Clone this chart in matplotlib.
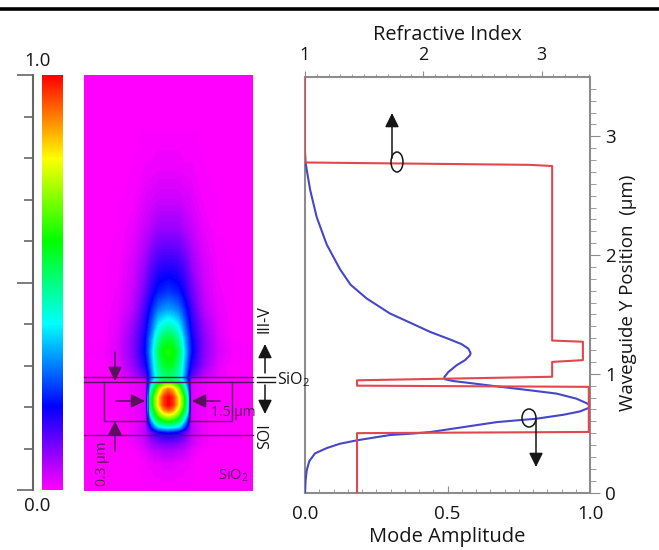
import matplotlib
matplotlib.use("Agg")
import matplotlib.pyplot as plt
import numpy as np
from matplotlib.colors import LinearSegmentedColormap
from matplotlib.patches import Ellipse

plt.rcParams['font.family'] = ['Open Sans', 'DejaVu Sans']
plt.rcParams['mathtext.default'] = 'regular'

W, H = 659, 550
DARK = '#151515'
GREY = '#8c8c8c'
PURPLE = '#5a1060'

# mode amplitude curve
amp = [0, 0.002, 0.006, 0.015, 0.035, 0.076, 0.123, 0.181, 0.24, 0.298, 0.38, 0.439, 0.556, 0.673, 0.813,
       0.907, 0.965, 0.994, 1.0, 0.992, 0.953, 0.883, 0.789, 0.673, 0.579, 0.52, 0.491, 0.489, 0.503,
       0.532, 0.561, 0.579, 0.581, 0.573, 0.55, 0.509, 0.439, 0.333, 0.298, 0.216, 0.16, 0.123, 0.076,
       0.041, 0.018, 0.006, 0.002, 0]
amp_y = [0, 0.10, 0.186, 0.264, 0.329, 0.374, 0.411, 0.439, 0.462, 0.484, 0.497, 0.509, 0.551, 0.593, 0.622,
         0.655, 0.683, 0.711, 0.73, 0.748, 0.79, 0.833, 0.861, 0.894, 0.922, 0.939, 0.954, 0.973, 1.015,
         1.072, 1.114, 1.156, 1.175, 1.212, 1.249, 1.289, 1.353, 1.47, 1.508, 1.635, 1.75, 1.88, 2.09,
         2.32, 2.55, 2.72, 2.78, 2.86]

# refractive index profile
index = [1.44, 1.44, 3.40, 3.40, 1.44, 1.44, 3.09, 3.09, 3.35, 3.35, 3.09, 3.09, 2.9, 1, 1]
index_y = [0, 0.5, 0.51, 0.89, 0.90, 0.945, 0.975, 1.1, 1.115, 1.27, 1.28, 2.75, 2.76, 2.78, 3.5]

# field map, read by eye. half profile, mirrored around the waveguide centre
field_x = [0, 0.04, 0.08, 0.11, 0.14, 0.17, 0.19, 0.24, 0.30, 0.42, 0.55, 0.72]
field_y = [3.52, 3.05, 2.72, 2.46, 2.21, 1.92, 1.68, 1.54, 1.43, 1.28, 1.18, 1.07, 0.98, 0.94,
           0.90, 0.86, 0.79, 0.73, 0.69, 0.65, 0.59, 0.54, 0.50, 0.46, 0.40, 0.34, 0.23, 0]
field = [
    [0, 0, 0, 0, 0, 0, 0, 0, 0, 0, 0, 0],
    [0, 0, 0, 0, 0, 0, 0, 0, 0, 0, 0, 0],
    [.015, .015, .015, .012, .01, .01, .01, .005, 0, 0, 0, 0],
    [.04, .04, .04, .035, .03, .03, .025, .015, .005, 0, 0, 0],
    [.08, .08, .08, .07, .06, .05, .045, .03, .015, 0, 0, 0],
    [.16, .16, .15, .14, .12, .10, .08, .055, .03, .005, 0, 0],
    [.24, .23, .22, .20, .17, .14, .12, .08, .04, .01, 0, 0],
    [.32, .31, .29, .26, .22, .18, .15, .10, .05, .015, 0, 0],
    [.42, .40, .37, .32, .26, .21, .17, .12, .07, .02, 0, 0],
    [.56, .54, .48, .41, .32, .25, .20, .14, .09, .025, 0, 0],
    [.62, .60, .54, .45, .35, .26, .21, .15, .09, .03, .005, 0],
    [.58, .56, .50, .42, .32, .23, .18, .13, .08, .02, 0, 0],
    [.52, .50, .46, .39, .29, .19, .13, .09, .05, .015, 0, 0],
    [.55, .52, .48, .40, .30, .19, .05, .03, .02, .005, 0, 0],
    [.72, .68, .60, .50, .38, .22, .03, .02, .01, 0, 0, 0],
    [.90, .84, .72, .60, .44, .26, .03, .02, .01, 0, 0, 0],
    [1.0, .95, .82, .70, .55, .35, .03, .02, .01, 0, 0, 0],
    [1.0, .95, .82, .70, .55, .35, .03, .02, .01, 0, 0, 0],
    [.93, .88, .76, .65, .51, .33, .03, .02, .01, 0, 0, 0],
    [.80, .77, .68, .58, .45, .28, .03, .02, .01, 0, 0, 0],
    [.60, .58, .52, .44, .32, .18, .04, .02, .01, 0, 0, 0],
    [.40, .39, .36, .30, .22, .12, .05, .03, .01, 0, 0, 0],
    [.22, .21, .19, .16, .12, .08, .05, .03, .01, 0, 0, 0],
    [.16, .15, .14, .12, .10, .07, .05, .03, .01, 0, 0, 0],
    [.10, .10, .09, .08, .07, .05, .04, .02, .01, 0, 0, 0],
    [.06, .06, .05, .05, .04, .03, .02, .01, 0, 0, 0, 0],
    [.02, .02, .015, .015, .01, .01, .005, 0, 0, 0, 0, 0],
    [0, 0, 0, 0, 0, 0, 0, 0, 0, 0, 0, 0],
]

colormap_colors = ['#ff00ff', '#0000ff', '#00ffff', '#00ff00', '#ffff00', '#ff0000']


def px_axes(left, top, right, bottom):
    return fig.add_axes([left / W, (H - bottom) / H, (right - left) / W, (bottom - top) / H])


fig = plt.figure(figsize=(W / 100, H / 100), dpi=100)
cmap = LinearSegmentedColormap.from_list('field', colormap_colors, N=256)

# field image
half = np.array(field)
z = np.hstack([half[:, :0:-1], half])
x = np.concatenate([-np.array(field_x)[:0:-1], field_x])
ax_img = px_axes(84, 75, 253, 491)
ax_img.contourf(x, field_y, z, levels=np.linspace(0, 1, 129), cmap=cmap, extend='both', antialiased=False)
ax_img.set_xlim(-0.71, 0.71)
ax_img.set_ylim(0, 3.52)
ax_img.axis('off')

# colour scale
ax_bar = px_axes(42, 75, 63, 490)
ax_bar.imshow(np.linspace(1, 0, 256).reshape(-1, 1), aspect='auto', cmap=cmap, extent=[0, 1, 0, 1])
ax_bar.set_xticks([])
ax_bar.set_yticks([])
for s in ax_bar.spines.values():
    s.set_visible(False)
ax_scale = px_axes(32, 75, 33, 490)
ax_scale.set_ylim(0, 1)
ax_scale.set_xticks([])
ax_scale.set_yticks([0, 0.5, 1])
ax_scale.set_yticks(np.arange(0.1, 1, 0.1), minor=True)
ax_scale.set_yticklabels([])
ax_scale.tick_params(axis='y', which='major', length=11, width=1.2, color='#666666')
ax_scale.tick_params(axis='y', which='minor', length=6, width=1.2, color='#666666')
for name, s in ax_scale.spines.items():
    s.set_visible(name == 'right')
    s.set_color('#666666')
    s.set_linewidth(1.5)

# profile plot
ax = px_axes(305, 77, 590, 492.5)
ax.plot(amp, amp_y, color='#4646c8', lw=1.5, zorder=3)
ax.set_xlim(0, 1)
ax.set_ylim(0, 3.5)
ax.set_xticks([0, 0.5, 1])
ax.set_xticklabels(['0.0', '0.5', '1.0'], fontsize=13.5, color=DARK)
ax.set_xticks(np.arange(0.05, 1, 0.05), minor=True)
ax.tick_params(axis='x', which='both', direction='in', color=GREY)
ax.tick_params(axis='x', which='major', length=5, pad=9)
ax.tick_params(axis='x', which='minor', length=3)
ax.set_xlabel('Mode Amplitude', fontsize=14.5, color=DARK, labelpad=3)
ax.yaxis.tick_right()
ax.yaxis.set_label_position('right')
ax.set_yticks([0, 1, 2, 3])
ax.set_yticklabels(['0', '1', '2', '3'], fontsize=13.5, color=DARK)
ax.set_yticks(np.arange(0, 3.5, 0.1), minor=True)
ax.tick_params(axis='y', which='major', length=7, color=GREY, pad=4)
ax.tick_params(axis='y', which='minor', length=4, color=GREY)
ax.set_ylabel('Waveguide Y Position  (µm)', fontsize=13.5, color=DARK, labelpad=2, y=0.48)
for s in ax.spines.values():
    s.set_color(GREY)
    s.set_linewidth(1.5)

ax_top = ax.twiny()
ax_top.plot(index, index_y, color='#e2474e', lw=1.5, zorder=4)
ax_top.set_xlim(1, 3.41)
ax_top.set_xticks([1, 2, 3])
ax_top.set_xticklabels(['1', '2', '3'], fontsize=13, color=DARK)
ax_top.set_xticks(np.arange(1, 3.41, 0.1), minor=True)
ax_top.tick_params(axis='x', which='major', length=4, color=GREY, pad=5)
ax_top.tick_params(axis='x', which='minor', length=2, color=GREY)
ax_top.set_xlabel('Refractive Index', fontsize=14.3, color=DARK, labelpad=5)
for s in ax_top.spines.values():
    s.set_visible(False)

# annotations, in picture pixels
over = fig.add_axes([0, 0, 1, 1], zorder=10)
over.set_xlim(0, W)
over.set_ylim(H, 0)
over.axis('off')
over.patch.set_alpha(0)


def arrow(x0, y0, x1, y1, color=DARK, lw=1.1):
    over.annotate('', xy=(x1, y1), xytext=(x0, y0),
                  arrowprops=dict(arrowstyle='-|>,head_width=0.42,head_length=0.85', color=color, lw=lw,
                                  shrinkA=0, shrinkB=0))


over.plot([0, W], [8.5, 8.5], color='black', lw=2.6, solid_capstyle='butt')

for yy in [377, 381.5, 434.5]:
    over.plot([84, 253], [yy, yy], color=PURPLE, lw=1.0)
over.plot([104, 104, 148], [381.5, 421, 421], color=PURPLE, lw=1.0)
over.plot([189, 232, 232], [421, 421, 381.5], color=PURPLE, lw=1.0)
over.plot([148, 148], [381.5, 421], color=PURPLE, lw=1.0, alpha=0.7)
over.plot([189, 189], [381.5, 421], color=PURPLE, lw=1.0, alpha=0.7)

arrow(115, 352, 115, 381, PURPLE)
arrow(115, 451, 115, 421, PURPLE)
arrow(116, 401, 145, 401, PURPLE)
arrow(220, 401, 192, 401, PURPLE)

over.text(233, 412, '1.5 µm', fontsize=10, color=PURPLE, ha='center', va='center')
over.text(103, 464, '0.3 µm', fontsize=10, color=PURPLE, ha='center', va='center', rotation=90)
over.text(233, 476, 'SiO$_2$', fontsize=10.5, color=PURPLE, ha='center', va='center')

over.text(265, 319, 'III-V', fontsize=11.5, color=DARK, ha='center', va='center', rotation=90)
over.text(265, 436, 'SOI', fontsize=11.5, color=DARK, ha='center', va='center', rotation=90)
over.text(294, 380, 'SiO$_2$', fontsize=11.5, color=DARK, ha='center', va='center')
over.plot([257, 275], [377, 377], color=DARK, lw=1.0)
over.plot([257, 275], [381.5, 381.5], color=DARK, lw=1.0)
arrow(265, 373, 265, 344)
arrow(265, 385, 265, 414)

arrow(392, 158, 392, 113)
arrow(536, 420, 536, 467)
over.add_patch(Ellipse((397, 162), 12, 20, fill=False, edgecolor=DARK, lw=1.1))
over.add_patch(Ellipse((529, 418), 14, 18, fill=False, edgecolor=DARK, lw=1.1))

over.text(37, 61, '1.0', fontsize=13.5, color=DARK, ha='center', va='center')
over.text(37, 506, '0.0', fontsize=13.5, color=DARK, ha='center', va='center')

fig.savefig('out.png', dpi=100)
